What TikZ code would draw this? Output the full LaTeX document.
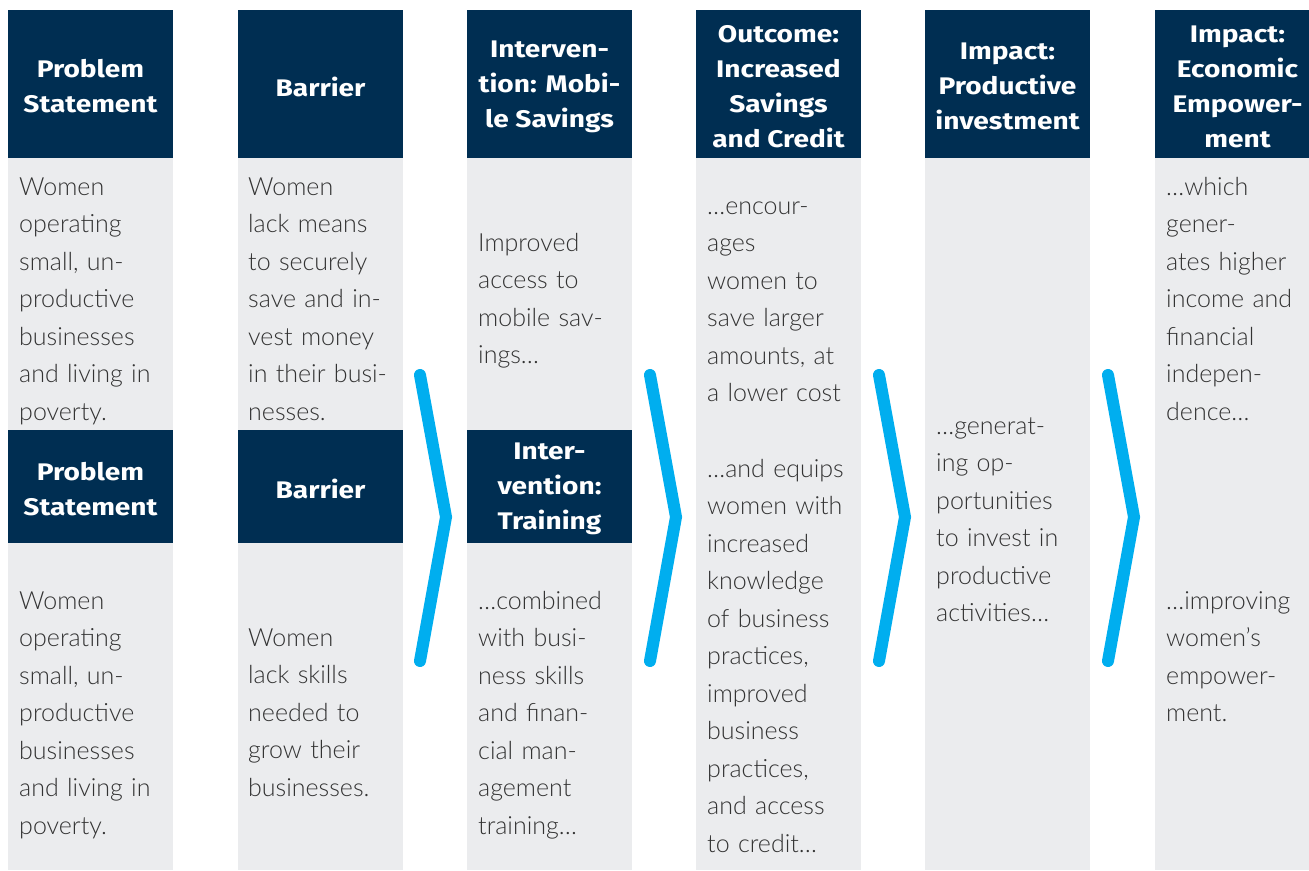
\documentclass[tikz,border=0pt]{standalone}
\usepackage{fontspec}
\IfFontExistsTF{Lato Light}{\setmainfont{Lato Light}}{\setmainfont{Lato}}
\newfontfamily\hdrfont{Fira Sans}[FakeStretch=1.17]
\definecolor{navy}{HTML}{002E52}
\definecolor{lgray}{HTML}{EBECEE}
\definecolor{tgray}{HTML}{333333}
\definecolor{cblue}{HTML}{00AEEF}
\tikzset{
  hdr/.style={fill=navy, minimum width=165pt, inner sep=0pt},
  hdrtxt/.style={text=white, inner sep=0pt, align=center, yshift=-2.5pt,
    font={\hdrfont\bfseries\fontsize{24}{35}\selectfont}},
  bodybox/.style={fill=lgray, minimum width=165pt, minimum height=712pt, inner sep=0pt},
  txt/.style={anchor=base west, text width=160pt, align=left, inner sep=0pt, text=tgray,
    font={\fontsize{25}{37.5}\selectfont}},
  chev/.style={draw=cblue, line width=12pt, line cap=round, line join=miter}
}
\begin{document}
\begin{tikzpicture}[x=1pt,y=-1pt]
\useasboundingbox (0,0) rectangle (1309,870);
\begin{scope}
\clip (0,0) rectangle (1309,870);
% body columns
\node[bodybox] (b1) at (90.5,514) {};
\node[bodybox] (b2) at (320.5,514) {};
\node[bodybox] (b3) at (549.5,514) {};
\node[bodybox] (b4) at (778.5,514) {};
\node[bodybox] (b5) at (1007.5,514) {};
\node[bodybox] (b6) at (1237.5,514) {};
% top headers
\node[hdr, minimum height=148pt] (h1) at (90.5,84) {};
\node[hdrtxt] (h1t) at (h1.center) {Problem\\Statement};
\node[hdr, minimum height=148pt] (h2) at (320.5,84) {};
\node[hdrtxt] (h2t) at (h2.center) {Barrier};
\node[hdr, minimum height=148pt] (h3) at (549.5,84) {};
\node[hdrtxt] (h3t) at (h3.center) {Interven-\\tion: Mobi-\\le Savings};
\node[hdr, minimum height=148pt] (h4) at (778.5,84) {};
\node[hdrtxt] (h4t) at (h4.center) {Outcome:\\Increased\\Savings\\and Credit};
\node[hdr, minimum height=148pt] (h5) at (1007.5,84) {};
\node[hdrtxt] (h5t) at (h5.center) {Impact:\\Productive\\investment};
\node[hdr, minimum height=148pt] (h6) at (1237.5,84) {};
\node[hdrtxt] (h6t) at (h6.center) {Impact:\\Economic\\Empower-\\ment};
% second headers
\node[hdr, minimum height=113pt] (k1) at (90.5,486.5) {};
\node[hdrtxt] (k1t) at (k1.center) {Problem\\Statement};
\node[hdr, minimum height=113pt] (k2) at (320.5,486.5) {};
\node[hdrtxt] (k2t) at (k2.center) {Barrier};
\node[hdr, minimum height=113pt] (k3) at (549.5,486.5) {};
\node[hdrtxt] (k3t) at (k3.center) {Inter-\\vention:\\Training};
% texts
\node[txt] (t1a) at (19,195) {Women\\operating\\small, un-\\productive\\businesses\\and living in\\poverty.};
\node[txt] (t1b) at (19,609) {Women\\operating\\small, un-\\productive\\businesses\\and living in\\poverty.};
\node[txt] (t2a) at (248,195) {Women\\lack means\\to securely\\save and in-\\vest money\\in their busi-\\nesses.};
\node[txt] (t2b) at (248,646) {Women\\lack skills\\needed to\\grow their\\businesses.};
\node[txt] (t3a) at (478,251) {Improved\\access to\\mobile sav-\\ings…};
\node[txt] (t3b) at (478,609) {…combined\\with busi-\\ness skills\\and finan-\\cial man-\\agement\\training…};
\node[txt] (t4a) at (707,214) {…encour-\\ages\\women to\\save larger\\amounts, at\\a lower cost};
\node[txt] (t4b) at (707,477) {…and equips\\women with\\increased\\knowledge\\of business\\practices,\\improved\\business\\practices,\\and access\\to credit…};
\node[txt] (t5) at (936,434) {…generat-\\ing op-\\portunities\\to invest in\\productive\\activities…};
\node[txt] (t6a) at (1166,195) {…which\\gener-\\ates higher\\income and\\financial\\indepen-\\dence…};
\node[txt] (t6b) at (1166,609) {…improving\\women’s\\empower-\\ment.};
\end{scope}
% chevrons
\draw[chev] (420,375) -- (446,517) -- (420,661);
\draw[chev] (650,375) -- (676,517) -- (650,661);
\draw[chev] (879,375) -- (905,517) -- (879,661);
\draw[chev] (1108,375) -- (1134,517) -- (1108,661);
\end{tikzpicture}
\end{document}
